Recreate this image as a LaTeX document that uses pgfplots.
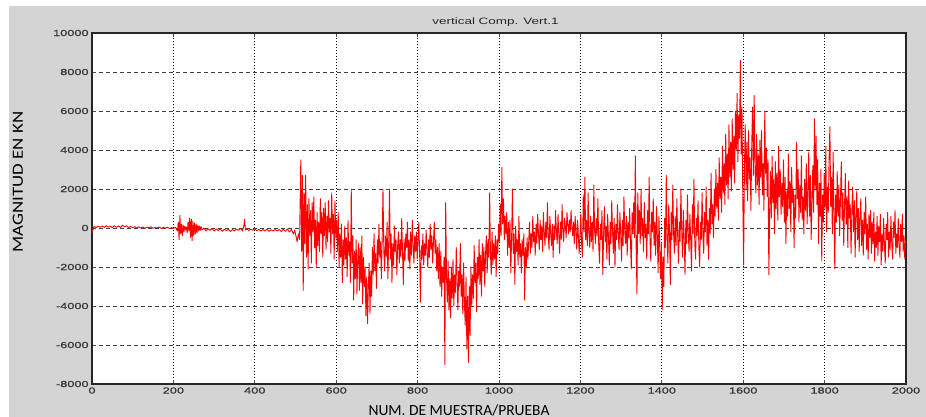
\documentclass[border=0pt]{standalone}
\usepackage{pgfplots}
\pgfplotsset{compat=1.18}
\usepackage{pgfplotstable}
\usepackage{fontspec}
\setmainfont{Liberation Sans}
\newfontfamily\tickfont[FakeStretch=1.45, FakeBold=0.8]{Liberation Sans}
\newfontfamily\titlefont[FakeStretch=1.45]{Liberation Sans}
\newfontfamily\labfont{Carlito}
\newfontfamily\ylabfont[FakeStretch=1.22]{Carlito}
\definecolor{figgray}{gray}{0.83}
\definecolor{ticktext}{HTML}{3A3434}

% sensor record: sample number, magnitude (kN)
\pgfplotstableread[row sep=\\]{
x y\\
0 -250\\ 5 80\\ 10 20\\ 15 90\\ 20 40\\ 25 100\\ 30 30\\ 35 110\\ 40 50\\ 45 90\\ 50 20\\ 55 120\\
60 40\\ 65 100\\ 70 30\\ 75 140\\ 80 60\\ 85 110\\ 90 20\\ 95 80\\ 100 10\\ 105 70\\ 110 -10\\ 115 60\\
120 0\\ 125 50\\ 130 -20\\ 135 40\\ 140 10\\ 145 60\\ 150 -10\\ 155 30\\ 160 0\\ 165 50\\ 170 -20\\ 175 30\\
180 -10\\ 185 40\\ 190 -30\\ 195 20\\ 200 -20\\ 205 30\\ 208 -80\\
210 -150\\ 212 300\\ 214 -600\\ 216 650\\ 218 -300\\ 220 200\\ 222 -400\\ 224 150\\ 226 -200\\ 228 100\\
230 -100\\ 232 50\\ 234 -250\\ 236 300\\ 238 -150\\ 240 500\\ 242 -500\\ 244 450\\ 246 -650\\ 248 350\\
250 -400\\ 252 250\\ 254 -300\\ 256 200\\ 258 -250\\ 260 150\\ 262 -150\\ 264 100\\ 266 -120\\ 268 80\\ 270 -100\\
275 0\\ 280 -150\\ 285 -40\\ 290 -120\\ 295 -20\\ 300 -160\\ 305 -50\\ 310 -130\\ 315 -40\\ 320 -170\\
325 -60\\ 330 -140\\ 335 -70\\ 340 -180\\ 345 -80\\ 350 -150\\ 355 -60\\ 360 -120\\ 365 -20\\ 370 -150\\
373 100\\ 375 450\\ 377 -100\\ 380 -40\\ 385 -130\\ 390 -60\\ 395 -110\\ 400 -40\\ 405 -140\\ 410 -70\\
415 -160\\ 420 -80\\ 425 -150\\ 430 -60\\ 435 -170\\ 440 -90\\ 445 -160\\ 450 -70\\ 455 -150\\ 460 -80\\
465 -180\\ 470 -60\\ 475 -170\\ 480 -50\\ 485 -200\\ 490 -80\\ 495 -300\\ 498 -100\\ 501 -400\\ 504 -700\\
507 -300\\ 510 -600\\
513 3500\\ 515 -1200\\ 517 2700\\ 519 -3200\\ 521 1800\\ 523 -800\\ 525 2700\\ 527 -1500\\ 529 1200\\ 531 -2100\\
533 1500\\ 535 -400\\ 537 900\\ 539 -1800\\ 541 1300\\ 543 -200\\ 545 1600\\ 547 -1000\\ 549 400\\ 551 -2000\\
553 800\\ 555 -900\\ 557 300\\ 559 -1200\\ 561 1500\\ 563 -300\\ 565 800\\ 567 -1500\\ 569 1000\\ 571 -400\\
573 1300\\ 575 -1100\\ 577 600\\ 579 -700\\ 581 1400\\ 583 -200\\ 585 500\\ 587 -1300\\ 589 1800\\ 591 -300\\
593 700\\ 595 -1600\\ 597 1400\\ 599 -500\\ 601 400\\ 603 -1200\\ 605 800\\ 607 -2000\\ 609 -300\\ 611 -1500\\
613 200\\ 615 -2800\\ 617 -600\\ 619 -1900\\ 621 100\\ 623 -1600\\ 625 -500\\ 627 -2500\\ 629 400\\ 631 -1400\\
633 -700\\ 635 -2800\\ 637 2000\\ 639 -1800\\ 641 -400\\ 643 -3700\\ 645 -1200\\ 647 -2600\\ 649 -600\\ 651 -3400\\
653 -1500\\ 655 -800\\ 657 -3200\\ 659 -1000\\ 661 -2800\\ 663 -400\\ 665 -3900\\ 667 -1500\\ 669 -3000\\ 671 -2000\\
673 -4500\\ 675 -2500\\ 677 -4900\\ 679 -3000\\ 681 -1800\\ 683 -4400\\ 685 -2200\\ 687 -3500\\ 689 -1000\\ 691 -2400\\
693 -300\\ 695 -2200\\ 697 -1300\\ 699 -3100\\ 701 -600\\ 703 -1800\\ 705 200\\ 707 -1500\\ 709 -700\\ 711 -2600\\
713 -500\\ 715 2000\\ 717 -1200\\ 719 -2200\\ 721 -400\\ 723 -1500\\ 725 300\\ 727 -2600\\ 729 -700\\ 731 2000\\
733 -1600\\ 735 -300\\ 737 -2800\\ 739 -800\\ 741 -1900\\ 743 100\\ 745 -1200\\ 747 -600\\ 749 -2400\\ 751 -900\\
753 -200\\ 755 -1800\\ 757 -600\\ 759 -1500\\ 761 500\\ 763 -1300\\ 765 -2900\\ 767 -600\\ 769 -1700\\ 771 -300\\
773 -1000\\ 775 300\\ 777 -1700\\ 779 -600\\ 781 -2100\\ 783 -200\\ 785 -1400\\ 787 400\\ 789 -900\\ 791 -1800\\
793 -400\\ 795 -1200\\ 797 -200\\ 799 -1600\\ 801 -700\\ 803 300\\ 805 -1300\\ 807 -3800\\ 809 -900\\ 811 -1600\\
813 -300\\ 815 -1900\\ 817 -800\\ 819 -1400\\ 821 -100\\ 823 -1200\\ 825 -2000\\ 827 -600\\ 829 -1500\\ 831 200\\
833 -1100\\ 835 -400\\ 837 -1800\\ 839 -700\\ 841 300\\ 843 -1300\\ 845 -600\\ 847 -2200\\ 849 -1000\\ 851 -2600\\
853 -800\\ 855 -3000\\ 857 -1200\\ 859 -3500\\ 861 -2000\\ 863 -2800\\ 865 -1500\\ 867 -7000\\ 869 1300\\ 871 -2500\\
873 -3800\\ 875 -1700\\ 877 -4200\\ 879 -2600\\ 881 -4600\\ 883 -2000\\ 885 -3600\\ 887 -1600\\ 889 -4000\\ 891 -2400\\
893 -3300\\ 895 -1000\\ 897 -2700\\ 899 -4200\\ 901 -2200\\ 903 -3000\\ 905 -800\\ 907 -3500\\ 909 -2400\\ 911 -4400\\
913 -1800\\ 915 -3800\\ 917 -5000\\ 919 -2500\\ 921 -6200\\ 923 -3500\\ 925 -6900\\ 927 -3000\\ 929 -5500\\ 931 -2000\\
933 -4000\\ 935 -2400\\ 937 -3600\\ 939 -900\\ 941 -2800\\ 943 -1800\\ 945 -4300\\ 947 -1500\\ 949 -2600\\ 951 -600\\
953 -2900\\ 955 -1400\\ 957 -3500\\ 959 -800\\ 961 -2200\\ 963 -1000\\ 965 -3000\\ 967 -1300\\ 969 -400\\ 971 -2300\\
973 -600\\ 975 -1500\\ 977 1800\\ 979 -1300\\ 981 -2400\\ 983 -200\\ 985 -1900\\ 987 -800\\ 989 -1600\\ 991 -400\\
993 -2500\\ 995 -600\\ 997 -1300\\ 999 200\\ 1001 -700\\ 1003 1200\\ 1005 -400\\ 1007 3100\\ 1009 200\\ 1011 1500\\
1013 -600\\ 1015 600\\ 1017 -300\\ 1019 800\\ 1021 -1400\\ 1023 300\\ 1025 -1000\\ 1027 400\\ 1029 -2300\\ 1031 -500\\
1033 2000\\ 1035 -1300\\ 1037 -300\\ 1039 -2900\\ 1041 100\\ 1043 -1200\\ 1045 -600\\ 1047 -1900\\ 1049 600\\ 1051 -1500\\
1053 -800\\ 1055 -2300\\ 1057 -600\\ 1059 -1400\\ 1061 -300\\ 1063 -3700\\ 1065 -1000\\ 1067 -2000\\ 1069 -500\\ 1071 -1600\\
1073 -700\\ 1075 300\\ 1077 -1300\\ 1079 -300\\ 1081 -1000\\ 1083 600\\ 1085 -700\\ 1087 -200\\ 1089 -1400\\ 1091 200\\
1093 -800\\ 1095 700\\ 1097 -300\\ 1099 -1100\\ 1101 400\\ 1103 -600\\ 1105 100\\ 1107 -1200\\ 1109 800\\ 1111 -200\\
1113 -900\\ 1115 300\\ 1117 -500\\ 1119 1300\\ 1121 -400\\ 1123 -1100\\ 1125 600\\ 1127 -300\\ 1129 -900\\ 1131 200\\
1133 -1500\\ 1135 100\\ 1137 -600\\ 1139 900\\ 1141 -200\\ 1143 -800\\ 1145 700\\ 1147 -400\\ 1149 -1300\\ 1151 300\\
1153 -600\\ 1155 1200\\ 1157 -200\\ 1159 -700\\ 1161 500\\ 1163 100\\ 1165 -500\\ 1167 800\\ 1169 200\\ 1171 -300\\
1173 400\\ 1175 -200\\ 1177 900\\ 1179 100\\ 1181 -400\\ 1183 300\\ 1185 -800\\ 1187 600\\ 1189 -100\\ 1191 -1100\\
1193 400\\ 1195 -400\\ 1197 -1300\\ 1199 -300\\ 1201 700\\ 1203 -800\\ 1205 -1500\\ 1207 1700\\ 1209 -200\\ 1211 2600\\
1213 -600\\ 1215 400\\ 1217 -900\\ 1219 1800\\ 1221 -300\\ 1223 -1000\\ 1225 600\\ 1227 -700\\ 1229 300\\ 1231 -1200\\
1233 2200\\ 1235 -200\\ 1237 -800\\ 1239 500\\ 1241 -400\\ 1243 1500\\ 1245 -900\\ 1247 -1800\\ 1249 200\\ 1251 -600\\
1253 900\\ 1255 -2400\\ 1257 -300\\ 1259 1100\\ 1261 -700\\ 1263 100\\ 1265 -1600\\ 1267 700\\ 1269 -500\\ 1271 -1900\\
1273 300\\ 1275 -800\\ 1277 1400\\ 1279 -200\\ 1281 -1300\\ 1283 500\\ 1285 -2000\\ 1287 200\\ 1289 -600\\ 1291 1200\\
1293 -400\\ 1295 -1100\\ 1297 800\\ 1299 -300\\ 1301 -1700\\ 1303 400\\ 1305 -900\\ 1307 1600\\ 1309 -200\\ 1311 -800\\
1313 600\\ 1315 -1400\\ 1317 300\\ 1319 -500\\ 1321 1000\\ 1323 -700\\ 1325 -2100\\ 1327 800\\ 1329 -300\\ 1331 1300\\
1333 -500\\ 1335 3700\\ 1337 -1000\\ 1339 -3400\\ 1341 1800\\ 1343 -300\\ 1345 900\\ 1347 -800\\ 1349 2000\\ 1351 -400\\
1353 500\\ 1355 -1200\\ 1357 1300\\ 1359 -500\\ 1361 200\\ 1363 -1600\\ 1365 900\\ 1367 -300\\ 1369 2600\\ 1371 -600\\
1373 -1700\\ 1375 800\\ 1377 -200\\ 1379 1500\\ 1381 -900\\ 1383 300\\ 1385 -1400\\ 1387 1100\\ 1389 -400\\ 1391 -2300\\
1393 600\\ 1395 -1100\\ 1397 -2600\\ 1399 -800\\ 1401 -4200\\ 1403 -1500\\ 1405 -3000\\ 1407 500\\ 1409 -1000\\ 1411 2700\\
1413 -500\\ 1415 -1800\\ 1417 1200\\ 1419 -200\\ 1421 -2900\\ 1423 800\\ 1425 -600\\ 1427 2200\\ 1429 -300\\ 1431 -1300\\
1433 600\\ 1435 -900\\ 1437 1500\\ 1439 -400\\ 1441 -1800\\ 1443 300\\ 1445 -700\\ 1447 2000\\ 1449 -200\\ 1451 -1500\\
1453 900\\ 1455 -500\\ 1457 -2400\\ 1459 400\\ 1461 -800\\ 1463 1700\\ 1465 -300\\ 1467 -1200\\ 1469 700\\ 1471 -600\\
1473 -2200\\ 1475 1200\\ 1477 -300\\ 1479 2500\\ 1481 -800\\ 1483 -1600\\ 1485 500\\ 1487 -400\\ 1489 1400\\ 1491 -1000\\
1493 -2000\\ 1495 300\\ 1497 -600\\ 1499 1800\\ 1501 -400\\ 1503 -1300\\ 1505 800\\ 1507 -200\\ 1509 2100\\ 1511 -900\\
1513 400\\ 1515 -1600\\ 1517 1000\\ 1519 -300\\ 1521 2800\\ 1523 200\\ 1525 1200\\ 1527 -500\\ 1529 2000\\ 1531 600\\
1533 3000\\ 1535 1000\\ 1537 2300\\ 1539 400\\ 1541 3600\\ 1543 1500\\ 1545 2600\\ 1547 800\\ 1549 4200\\ 1551 1800\\
1553 3300\\ 1555 1200\\ 1557 4800\\ 1559 2200\\ 1561 3800\\ 1563 1500\\ 1565 5300\\ 1567 2600\\ 1569 4400\\ 1571 1900\\
1573 5600\\ 1575 3000\\ 1577 4700\\ 1579 2300\\ 1581 6000\\ 1583 4000\\ 1585 6900\\ 1587 3400\\ 1589 5800\\ 1591 4600\\
1593 8600\\ 1595 3800\\ 1597 6200\\ 1599 1500\\ 1601 -1900\\ 1603 3000\\ 1605 5300\\ 1607 2000\\ 1609 4400\\ 1611 1400\\
1613 5000\\ 1615 2500\\ 1617 3600\\ 1619 900\\ 1621 4300\\ 1623 6200\\ 1625 2700\\ 1627 6800\\ 1629 3100\\ 1631 1800\\
1633 4800\\ 1635 2200\\ 1637 3800\\ 1639 1200\\ 1641 4500\\ 1643 2600\\ 1645 5000\\ 1647 1700\\ 1649 3300\\ 1651 900\\
1653 6000\\ 1655 2800\\ 1657 4100\\ 1659 1600\\ 1661 3500\\ 1663 -2400\\ 1665 900\\ 1667 2900\\ 1669 500\\ 1671 3700\\
1673 1300\\ 1675 2500\\ 1677 -300\\ 1679 3400\\ 1681 1000\\ 1683 2800\\ 1685 400\\ 1687 4200\\ 1689 1600\\ 1691 3000\\
1693 700\\ 1695 2300\\ 1697 1100\\ 1699 3500\\ 1701 300\\ 1703 2600\\ 1705 -800\\ 1707 1900\\ 1709 600\\ 1711 3800\\
1713 1000\\ 1715 2400\\ 1717 -200\\ 1719 3100\\ 1721 1300\\ 1723 2000\\ 1725 -1000\\ 1727 1700\\ 1729 500\\ 1731 4400\\
1733 1500\\ 1735 3000\\ 1737 300\\ 1739 2200\\ 1741 800\\ 1743 3700\\ 1745 400\\ 1747 1600\\ 1749 -300\\ 1751 2500\\
1753 900\\ 1755 3300\\ 1757 200\\ 1759 1800\\ 1761 3900\\ 1763 600\\ 1765 2700\\ 1767 -600\\ 1769 1400\\ 1771 3200\\
1773 800\\ 1775 5600\\ 1777 2000\\ 1779 4700\\ 1781 1200\\ 1783 3500\\ 1785 -800\\ 1787 2300\\ 1789 600\\ 1791 3000\\
1793 -1700\\ 1795 1700\\ 1797 300\\ 1799 2800\\ 1801 1000\\ 1803 4200\\ 1805 -200\\ 1807 2100\\ 1809 800\\ 1811 3600\\
1813 5200\\ 1815 1100\\ 1817 2600\\ 1819 -300\\ 1821 3900\\ 1823 900\\ 1825 -2100\\ 1827 1700\\ 1829 300\\ 1831 2900\\
1833 600\\ 1835 2200\\ 1837 -400\\ 1839 1500\\ 1841 3400\\ 1843 400\\ 1845 1800\\ 1847 -900\\ 1849 1200\\ 1851 2800\\
1853 200\\ 1855 1600\\ 1857 -1000\\ 1859 2400\\ 1861 500\\ 1863 1200\\ 1865 -1300\\ 1867 900\\ 1869 2100\\ 1871 -200\\
1873 1400\\ 1875 -1500\\ 1877 700\\ 1879 1900\\ 1881 -600\\ 1883 1000\\ 1885 -1200\\ 1887 600\\ 1889 1500\\ 1891 -900\\
1893 400\\ 1895 -1400\\ 1897 800\\ 1899 -300\\ 1901 1600\\ 1903 -1100\\ 1905 200\\ 1907 -1600\\ 1909 700\\ 1911 -500\\
1913 900\\ 1915 -1300\\ 1917 300\\ 1919 -800\\ 1921 800\\ 1923 -1700\\ 1925 -200\\ 1927 -1000\\ 1929 600\\ 1931 -1400\\
1933 100\\ 1935 -700\\ 1937 700\\ 1939 -1900\\ 1941 -300\\ 1943 -1200\\ 1945 500\\ 1947 -900\\ 1949 -1800\\ 1951 200\\
1953 -600\\ 1955 800\\ 1957 -1500\\ 1959 -200\\ 1961 -1100\\ 1963 600\\ 1965 -800\\ 1967 -1600\\ 1969 300\\ 1971 -500\\
1973 900\\ 1975 -1300\\ 1977 -300\\ 1979 -1000\\ 1981 500\\ 1983 -900\\ 1985 -1500\\ 1987 200\\ 1989 -700\\ 1991 700\\
1993 -1200\\ 1995 -400\\ 1997 -1600\\ 1999 -600\\ 2000 -800\\
}\vert

\begin{document}
\begin{tikzpicture}
\useasboundingbox (-46pt,-16.5pt) rectangle (417pt,192pt);
\fill[figgray] (-41.5pt,-16.5pt) rectangle (417pt,189pt);
\begin{axis}[
  at={(0,0)}, anchor=south west,
  scale only axis, width=407pt, height=175.5pt,
  xmin=0, xmax=2000, ymin=-8000, ymax=10000,
  xtick={0,200,...,2000}, ytick={-8000,-6000,...,10000},
  scaled ticks=false,
  /pgf/number format/.cd, 1000 sep={}, assume math mode=true, /pgfplots/.cd,
  axis background/.style={fill=white},
  axis line style={black!85, line width=0.55pt},
  tick style={black!70, line width=0.4pt},
  major tick length=2pt,
  tick label style={font=\tickfont\fontsize{4.4}{5}\selectfont, text=ticktext},
  xticklabel style={inner sep=1pt, yshift=-0.5pt},
  yticklabel style={inner sep=1pt, xshift=-0.5pt},
  grid=major,
  x grid style={black, line width=0.4pt, dash pattern=on 0.5pt off 1pt},
  y grid style={black!75, line width=0.4pt, dash pattern=on 2pt off 1.5pt},
]
\addplot[red, line width=0.45pt, line join=round] table {\vert};
\end{axis}
\node[font=\titlefont\fontsize{4.65}{5}\selectfont, text=black!85] at (201.75pt,181pt) {vertical Comp. Vert.1};
\node[font=\ylabfont\fontsize{7.75}{9}\selectfont, rotate=90] at (-37pt,101pt) {MAGNITUD EN KN};
\node[font=\labfont\fontsize{7.75}{9}\selectfont] at (183.5pt,-13pt) {NUM. DE MUESTRA/PRUEBA};
\end{tikzpicture}
\end{document}
